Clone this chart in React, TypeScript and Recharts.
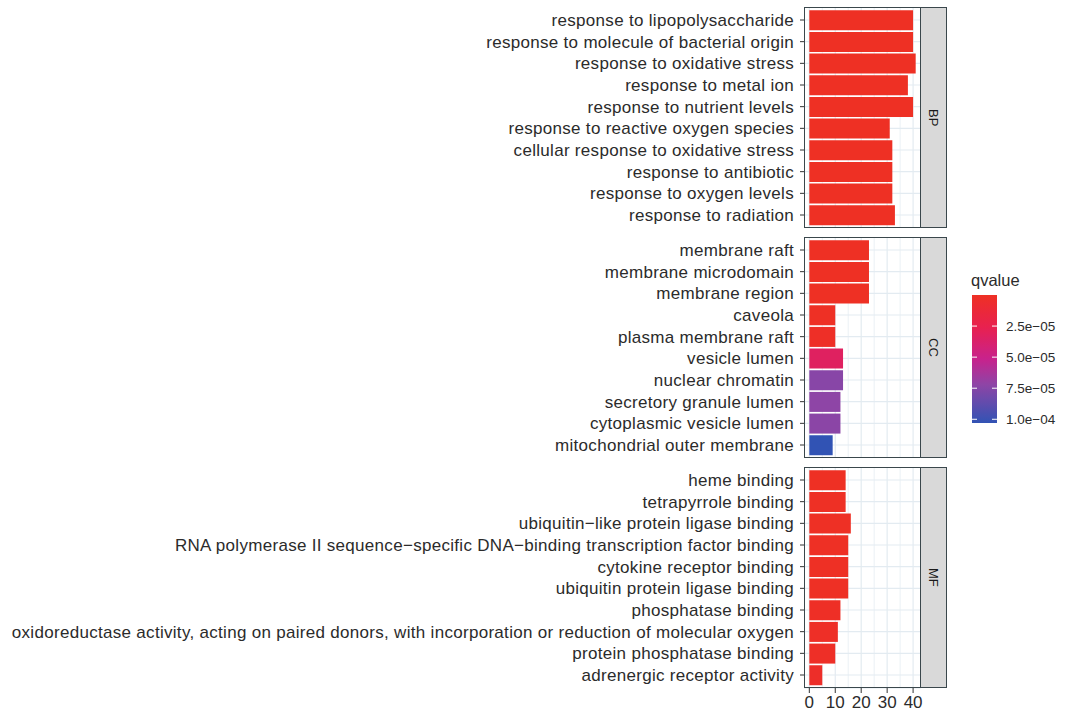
import React from 'react';
import { BarChart, Bar, XAxis, YAxis, CartesianGrid, Cell } from 'recharts';

// ---------- data ----------
const bpTerms = [
  'response to lipopolysaccharide',
  'response to molecule of bacterial origin',
  'response to oxidative stress',
  'response to metal ion',
  'response to nutrient levels',
  'response to reactive oxygen species',
  'cellular response to oxidative stress',
  'response to antibiotic',
  'response to oxygen levels',
  'response to radiation',
];
const bpCounts = [40, 40, 41, 38, 40, 31, 32, 32, 32, 33];
const bpQvalues = [2e-12, 2e-12, 1e-11, 3e-11, 5e-11, 8e-10, 1e-9, 2e-9, 3e-9, 4e-9];

const ccTerms = [
  'membrane raft',
  'membrane microdomain',
  'membrane region',
  'caveola',
  'plasma membrane raft',
  'vesicle lumen',
  'nuclear chromatin',
  'secretory granule lumen',
  'cytoplasmic vesicle lumen',
  'mitochondrial outer membrane',
];
const ccCounts = [23, 23, 23, 10, 10, 13, 13, 12, 12, 9];
const ccQvalues = [1e-8, 1e-8, 2e-8, 8e-7, 1.5e-6, 3.3e-5, 7.4e-5, 7.2e-5, 7.3e-5, 1.03e-4];

const mfTerms = [
  'heme binding',
  'tetrapyrrole binding',
  'ubiquitin\u2212like protein ligase binding',
  'RNA polymerase II sequence\u2212specific DNA\u2212binding transcription factor binding',
  'cytokine receptor binding',
  'ubiquitin protein ligase binding',
  'phosphatase binding',
  'oxidoreductase activity, acting on paired donors, with incorporation or reduction of molecular oxygen',
  'protein phosphatase binding',
  'adrenergic receptor activity',
];
const mfCounts = [14, 14, 16, 15, 15, 15, 12, 11, 10, 5];
const mfQvalues = [2e-7, 3e-7, 4e-7, 5e-7, 6e-7, 8e-7, 1e-6, 1.5e-6, 2e-6, 3e-6];

const facetLabels = ['BP', 'CC', 'MF'];
const xTicks = [0, 10, 20, 30, 40];
const xMinorTicks = [5, 15, 25, 35];
const legendTickValues = [2.5e-5, 5e-5, 7.5e-5, 1e-4];
const legendTickLabels = ['2.5e\u221205', '5.0e\u221205', '7.5e\u221205', '1.0e\u221204'];

// ---------- colours ----------
const colorStops: [number, string][] = [
  [0, '#EE3024'],
  [0.25, '#E8214F'],
  [0.5, '#C8228C'],
  [0.7, '#8E45A6'],
  [1, '#3153B4'],
];
const allQ = [...bpQvalues, ...ccQvalues, ...mfQvalues];
const qMin = Math.min(...allQ);
const qMax = Math.max(...allQ);

function hexToRgb(h: string) {
  return [parseInt(h.slice(1, 3), 16), parseInt(h.slice(3, 5), 16), parseInt(h.slice(5, 7), 16)];
}
function colorAt(t: number) {
  t = Math.max(0, Math.min(1, t));
  for (let i = 0; i < colorStops.length - 1; i++) {
    const [t0, c0] = colorStops[i];
    const [t1, c1] = colorStops[i + 1];
    if (t <= t1) {
      const f = (t - t0) / (t1 - t0);
      const a = hexToRgb(c0);
      const b = hexToRgb(c1);
      const m = a.map((v, k) => Math.round(v + (b[k] - v) * f));
      return `rgb(${m[0]},${m[1]},${m[2]})`;
    }
  }
  return colorStops[colorStops.length - 1][1];
}
const qColor = (q: number) => colorAt((q - qMin) / (qMax - qMin));

// ---------- layout ----------
const FONT = '"Liberation Sans", Arial, Helvetica, sans-serif';
const PLOT_LEFT = 804;
const PLOT_RIGHT = 921;
const STRIP_W = 26;
const PANEL_H = 221;
const PANEL_TOPS = [7, 237, 467];
const X_AXIS_H = 30;
const BORDER = '#3a474c';
const GRID = '#e3ebf1';
const TEXT = '#2b2b2b';
const LABEL_SIZE = 17;
const LABEL_SPACING = 0.3;

const maxCount = Math.max(...bpCounts, ...ccCounts, ...mfCounts);
const xDomain: [number, number] = [-0.05 * maxCount, 1.05 * maxCount];
// ggplot discrete expansion of 0.6 unit on each side of 10 categories
const bandPad = (PANEL_H / (10 - 1 + 1.2)) * 0.1;

const build = (terms: string[], counts: number[], qs: number[]) =>
  terms.map((term, i) => ({ term, count: counts[i], q: qs[i] }));

const panels = [
  build(bpTerms, bpCounts, bpQvalues),
  build(ccTerms, ccCounts, ccQvalues),
  build(mfTerms, mfCounts, mfQvalues),
];

// map a value through the grid's x axis scale (fallback: linear over plot area)
function gridX(values: number[]) {
  return (props: any) => {
    const xAxis = props?.xAxis;
    const offset = props?.offset;
    return values.map((v) => {
      const s = xAxis?.scale;
      if (typeof s === 'function') return s(v);
      if (s && typeof s.map === 'function') return s.map(v);
      return offset.left + ((v - xDomain[0]) / (xDomain[1] - xDomain[0])) * offset.width;
    });
  };
}

function Panel({ data, top, label, showX }: { data: any[]; top: number; label: string; showX: boolean }) {
  const h = PANEL_H + (showX ? X_AXIS_H : 0);
  return (
    <div style={{ position: 'absolute', left: 0, top, width: PLOT_RIGHT + STRIP_W, height: h }}>
      <BarChart
        width={PLOT_RIGHT + STRIP_W}
        height={h}
        data={data}
        layout="vertical"
        margin={{ top: 0, right: STRIP_W, bottom: 0, left: 0 }}
        barCategoryGap="5%"
      >
        <CartesianGrid
          horizontal={false}
          vertical
          stroke={GRID}
          strokeWidth={0.7}
          verticalCoordinatesGenerator={gridX(xMinorTicks)}
        />
        <CartesianGrid
          horizontal
          vertical
          stroke={GRID}
          strokeWidth={1.2}
          verticalCoordinatesGenerator={gridX(xTicks)}
        />
        <XAxis
          type="number"
          domain={xDomain}
          ticks={xTicks}
          allowDataOverflow
          hide={!showX}
          height={X_AXIS_H}
          axisLine={false}
          tickSize={5}
          tickMargin={3}
          tickLine={{ stroke: '#333' }}
          tick={{ fontSize: LABEL_SIZE, fill: TEXT, fontFamily: FONT }}
          interval={0}
        />
        <YAxis
          type="category"
          dataKey="term"
          width={PLOT_LEFT}
          interval={0}
          axisLine={false}
          tickSize={4}
          tickMargin={6}
          tickLine={{ stroke: '#333' }}
          tick={{ fontSize: LABEL_SIZE, fill: TEXT, fontFamily: FONT, letterSpacing: LABEL_SPACING }}
          padding={{ top: bandPad, bottom: bandPad }}
        />
        <Bar dataKey="count" isAnimationActive={false}>
          {data.map((d, i) => (
            <Cell key={i} fill={qColor(d.q)} />
          ))}
        </Bar>
      </BarChart>
      <div
        style={{
          position: 'absolute',
          left: PLOT_LEFT,
          top: 0,
          width: PLOT_RIGHT - PLOT_LEFT,
          height: PANEL_H,
          boxSizing: 'border-box',
          border: `1px solid ${BORDER}`,
          pointerEvents: 'none',
        }}
      />
      <div
        style={{
          position: 'absolute',
          left: PLOT_RIGHT - 1,
          top: 0,
          width: STRIP_W + 1,
          height: PANEL_H,
          boxSizing: 'border-box',
          border: `1px solid ${BORDER}`,
          background: '#d9d9d9',
          display: 'flex',
          alignItems: 'center',
          justifyContent: 'center',
        }}
      >
        <span
          style={{
            writingMode: 'vertical-rl',
            fontSize: 13,
            color: '#1a1a1a',
            fontFamily: FONT,
          }}
        >
          {label}
        </span>
      </div>
    </div>
  );
}

function Legend() {
  const x0 = 972;
  const y0 = 295;
  const w = 25;
  const hgt = 128;
  const stops = Array.from({ length: 21 }, (_, i) => i / 20);
  const yOf = (q: number) => y0 + ((q - qMin) / (qMax - qMin)) * hgt;
  return (
    <svg width={1090} height={712} style={{ position: 'absolute', left: 0, top: 0, pointerEvents: 'none' }}>
      <defs>
        <linearGradient id="qgrad" x1="0" y1="0" x2="0" y2="1">
          {stops.map((t) => (
            <stop key={t} offset={`${t * 100}%`} stopColor={colorAt(t)} />
          ))}
        </linearGradient>
      </defs>
      <text x={x0 - 1} y={286} fontSize={16.5} fill={TEXT} fontFamily={FONT}>
        qvalue
      </text>
      <rect x={x0} y={y0} width={w} height={hgt} fill="url(#qgrad)" />
      {legendTickValues.map((v, i) => (
        <g key={i}>
          <line x1={x0} x2={x0 + 5} y1={yOf(v)} y2={yOf(v)} stroke="#fff" strokeWidth={1} />
          <line x1={x0 + w - 5} x2={x0 + w} y1={yOf(v)} y2={yOf(v)} stroke="#fff" strokeWidth={1} />
          <text x={1006} y={yOf(v)} dy="0.355em" fontSize={13.5} fill={TEXT} fontFamily={FONT}>
            {legendTickLabels[i]}
          </text>
        </g>
      ))}
    </svg>
  );
}

export default function App() {
  return (
    <div
      style={{
        position: 'absolute',
        left: 0,
        top: 0,
        width: 1090,
        height: 712,
        background: '#ffffff',
        fontFamily: FONT,
        overflow: 'hidden',
      }}
    >
      {panels.map((data, i) => (
        <Panel key={i} data={data} top={PANEL_TOPS[i]} label={facetLabels[i]} showX={i === 2} />
      ))}
      <Legend />
    </div>
  );
}
